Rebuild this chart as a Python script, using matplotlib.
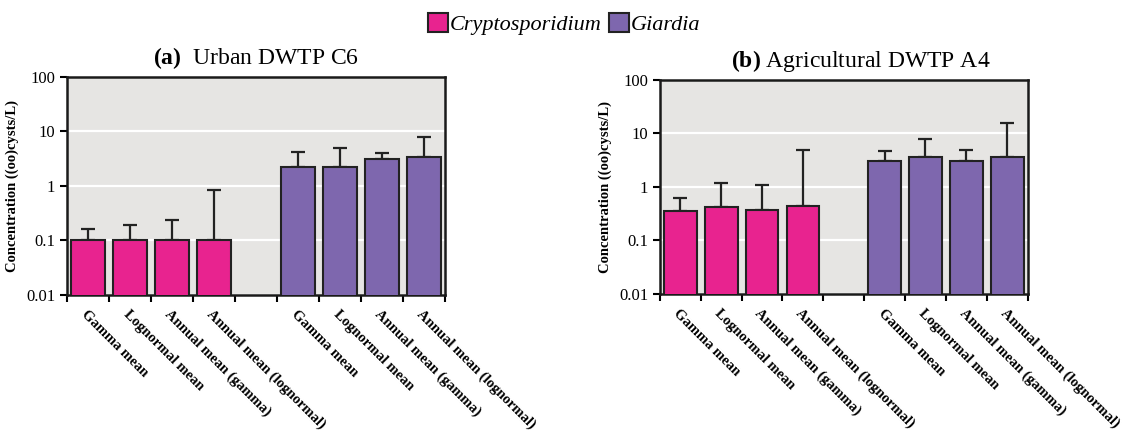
import numpy as np
import matplotlib
matplotlib.use("Agg")
import matplotlib.pyplot as plt
from matplotlib.patches import Patch
from matplotlib.ticker import FixedLocator, FuncFormatter

plt.rcParams["font.family"] = ["Liberation Serif", "DejaVu Serif"]
plt.rcParams["mathtext.fontset"] = "custom"
plt.rcParams["mathtext.rm"] = "Liberation Serif"
plt.rcParams["mathtext.bf"] = "Liberation Serif:bold"

# Data
methods = ["Gamma mean", "Lognormal mean", "Annual mean (gamma)", "Annual mean (lognormal)"]
species = ["Cryptosporidium", "Giardia"]

# (a) Urban DWTP C6
urban_crypto = [0.10, 0.10, 0.10, 0.102]
urban_crypto_upper = [0.16, 0.19, 0.24, 0.84]
urban_giardia = [2.25, 2.26, 3.18, 3.40]
urban_giardia_upper = [4.25, 4.9, 3.98, 7.8]

# (b) Agricultural DWTP A4
agri_crypto = [0.35, 0.415, 0.37, 0.435]
agri_crypto_upper = [0.63, 1.17, 1.10, 4.8]
agri_giardia = [3.03, 3.70, 3.12, 3.70]
agri_giardia_upper = [4.65, 7.8, 4.95, 16.0]

pink = "#E8238F"
purple = "#7E67AE"
edge = "#222222"
panel_bg = "#E6E5E3"

fig = plt.figure(figsize=(11.28, 4.36), dpi=100)
ax_a = fig.add_axes([0.0594, 0.3234, 0.335, 0.500])
ax_b = fig.add_axes([0.585, 0.3257, 0.326, 0.491])


def draw_panel(ax, crypto, crypto_up, giardia, giardia_up, title, title_x):
    xc = np.arange(4)
    xg = np.arange(5, 9)
    ax.set_facecolor(panel_bg)
    ax.set_yscale("log")
    ax.set_ylim(0.01, 100)
    ax.set_xlim(-0.5, 8.5)

    ax.bar(xc, crypto, width=0.8, color=pink, edgecolor=edge, linewidth=1.5, zorder=3)
    ax.bar(xg, giardia, width=0.8, color=purple, edgecolor=edge, linewidth=1.5, zorder=3)
    for x, v, up in [(xc, crypto, crypto_up), (xg, giardia, giardia_up)]:
        v = np.array(v)
        up = np.array(up)
        ax.errorbar(x, v, yerr=[np.zeros_like(v), up - v], fmt="none",
                    ecolor=edge, elinewidth=1.6, capsize=5, capthick=1.6, zorder=2)

    ax.yaxis.set_major_locator(FixedLocator([0.01, 0.1, 1, 10, 100]))
    ax.yaxis.set_minor_locator(FixedLocator([]))
    ax.yaxis.set_major_formatter(FuncFormatter(lambda v, p: f"{v:g}"))
    ax.grid(axis="y", color="white", linewidth=1.6, zorder=1)
    ax.set_axisbelow(True)

    ax.set_xticks(np.arange(-0.5, 9, 1.0))
    ax.set_xticklabels([])
    ax.set_xticks(list(range(4)) + list(range(5, 9)), methods + methods, minor=True)
    ax.tick_params(axis="x", which="minor", length=0, pad=9)
    ax.tick_params(axis="x", which="major", length=5, width=1.5, direction="out")
    ax.tick_params(axis="y", length=5, width=1.5, labelsize=12)
    for lab in ax.get_xticklabels(minor=True):
        lab.set_rotation(-45)
        lab.set_rotation_mode("anchor")
        lab.set_ha("left")
        lab.set_va("top")
        lab.set_fontweight("bold")
        lab.set_fontsize(10.5)

    for s in ax.spines.values():
        s.set_linewidth(1.8)
        s.set_color("#1a1a1a")

    ax.set_ylabel("Concentration ((oo)cysts/L)", fontweight="bold", fontsize=10.5, labelpad=5)
    ax.set_title(title, fontsize=17, pad=9, x=title_x)


draw_panel(ax_a, urban_crypto, urban_crypto_upper, urban_giardia, urban_giardia_upper,
           r"$\mathbf{(a)}$  Urban DWTP C6", 0.5)
draw_panel(ax_b, agri_crypto, agri_crypto_upper, agri_giardia, agri_giardia_upper,
           r"$\mathbf{(b)}$ Agricultural DWTP A4", 0.545)

handles = [Patch(facecolor=pink, edgecolor=edge, linewidth=1.5),
           Patch(facecolor=purple, edgecolor=edge, linewidth=1.5)]
fig.legend(handles, species, loc="upper center", bbox_to_anchor=(0.5, 1.015), ncol=2,
           frameon=False, handlelength=0.9, handleheight=0.9, handletextpad=0.1,
           columnspacing=0.3, prop={"style": "italic", "size": 16})

fig.savefig("out.png", dpi=100)
